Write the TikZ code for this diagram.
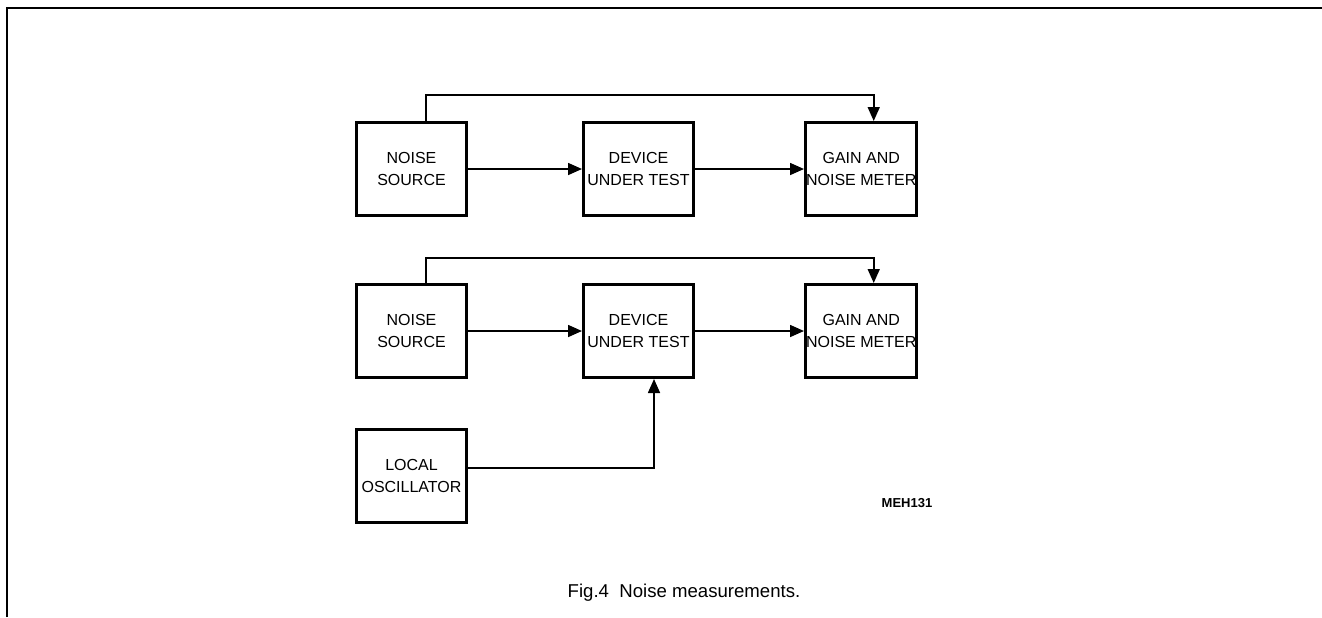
\documentclass[tikz,border=0pt]{standalone}
\usepackage{fontspec}
\setmainfont{Liberation Sans}
\usetikzlibrary{positioning,arrows.meta}

\begin{document}
\begin{tikzpicture}[
  x=0.5pt, y=-0.5pt,
  blk/.style={draw, line width=1.5pt, minimum width=55pt,
              minimum height=46.5pt, align=center, inner sep=0.3pt,
              font=\fontsize{8}{11}\selectfont},
  arr/.style={-{Triangle[length=7pt,width=6pt]}, line width=0.8pt},
  node distance=57pt
]
\useasboundingbox (0,0) rectangle (1322,617);
\draw[line width=1.2pt] (7,617) -- (7,8) -- (1322,8);

\node[blk] (ns1) at (411.5,169) {NOISE\\SOURCE};
\node[blk, right=of ns1] (dut1) {DEVICE\\UNDER TEST};
\node[blk, right=54.5pt of dut1] (gm1) {GAIN AND\\NOISE METER};
\draw[arr] (ns1) -- (dut1);
\draw[arr] (dut1) -- (gm1);
\draw[arr] ([xshift=7.25pt]ns1.north) -- ++(0,13pt) -| ([xshift=6.25pt]gm1.north);

\node[blk] (ns2) at (411.5,331) {NOISE\\SOURCE};
\node[blk, right=of ns2] (dut2) {DEVICE\\UNDER TEST};
\node[blk, right=54.5pt of dut2] (gm2) {GAIN AND\\NOISE METER};
\node[blk] (lo) at (411.5,476) {LOCAL\\OSCILLATOR};
\draw[arr] (ns2) -- (dut2);
\draw[arr] (dut2) -- (gm2);
\draw[arr] ([xshift=7.25pt]ns2.north) -- ++(0,12.5pt) -| ([xshift=6.25pt]gm2.north);
\draw[arr] ([yshift=4pt]lo.east) -| ([xshift=7.75pt]dut2.south);

\node[font=\bfseries\fontsize{6.5}{8}\selectfont] (code) at (907,503) {MEH131};
\node[font=\fontsize{9.3}{11}\selectfont] (cap) at (684,593) {Fig.4\ \ Noise measurements.};
\end{tikzpicture}
\end{document}
